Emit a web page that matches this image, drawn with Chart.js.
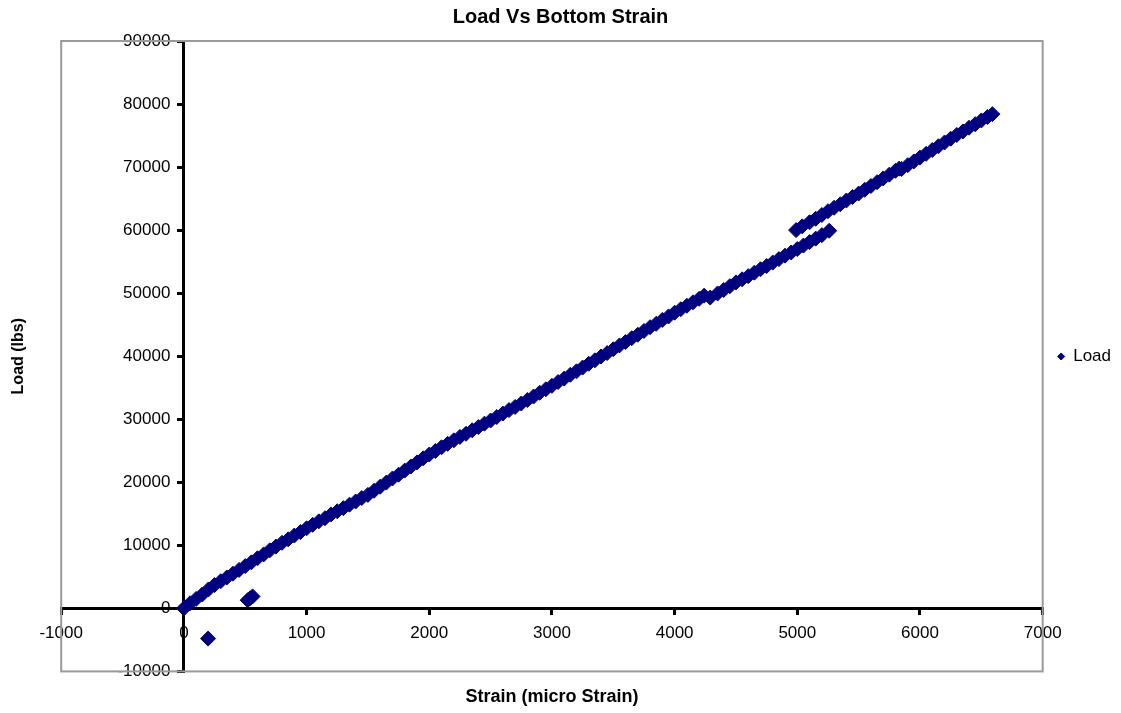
<!DOCTYPE html>
<html>
<head>
<meta charset="utf-8">
<script src="https://cdn.jsdelivr.net/npm/chart.js@4/dist/chart.umd.min.js"></script>
<style>
  html, body { margin: 0; padding: 0; background: #fff; }
  #wrap { width: 1121px; height: 713px; }
</style>
</head>
<body>
<div id="wrap"><canvas id="c" width="1121" height="713"></canvas></div>
<script>
// ---- Data ----
const chartTitle = "Load Vs Bottom Strain";
const xTitle = "Strain (micro Strain)";
const yTitle = "Load (lbs)";
const seriesName = "Load";

const xTicks = [-1000, 0, 1000, 2000, 3000, 4000, 5000, 6000, 7000];
const yTicks = [-10000, 0, 10000, 20000, 30000, 40000, 50000, 60000, 70000, 80000, 90000];

// main loading branch (micro strain)
const strainLower = [0, 50, 100, 150, 200, 250, 300, 350, 400, 450, 500, 550, 600, 650, 700, 750, 800, 850, 900, 950,
  1000, 1050, 1100, 1150, 1200, 1250, 1300, 1350, 1400, 1450, 1500, 1550, 1600, 1650, 1700, 1750, 1800, 1850, 1900, 1950,
  2000, 2050, 2100, 2150, 2200, 2250, 2300, 2350, 2400, 2450, 2500, 2550, 2600, 2650, 2700, 2750, 2800, 2850, 2900, 2950,
  3000, 3050, 3100, 3150, 3200, 3250, 3300, 3350, 3400, 3450, 3500, 3550, 3600, 3650, 3700, 3750, 3800, 3850, 3900, 3950,
  4000, 4050, 4100, 4150, 4200, 4240,
  4290, 4350, 4400, 4450, 4500, 4550, 4600, 4650, 4700, 4750, 4800, 4850, 4900, 4950, 5000, 5050, 5100, 5150, 5200, 5260];
const loadLower = [0, 800, 1500, 2200, 3000, 3700, 4300, 4900, 5500, 6100, 6700, 7300, 7950, 8550, 9200, 9800, 10400, 10950, 11550, 12100,
  12700, 13250, 13800, 14300, 14900, 15400, 15900, 16450, 16950, 17500, 18000, 18650, 19300, 19950, 20600, 21200, 21850, 22500, 23150, 23800,
  24400, 24950, 25550, 26100, 26650, 27200, 27700, 28250, 28750, 29300, 29800, 30350, 30900, 31450, 31950, 32500, 33050, 33600, 34200, 34750,
  35300, 35900, 36450, 37050, 37600, 38200, 38800, 39350, 39950, 40500, 41100, 41700, 42250, 42850, 43400, 44000, 44600, 45150, 45750, 46300,
  46900, 47450, 48000, 48550, 49100, 49600,
  49300, 49950, 50500, 51100, 51700, 52200, 52700, 53250, 53800, 54300, 54850, 55400, 55950, 56450, 57000, 57550, 58100, 58650, 59200, 59900];

// upper branch after the jump near 60000 lbs
const strainUpper = [4990, 5040, 5100, 5150, 5200, 5250, 5300, 5350, 5400, 5450, 5500, 5550, 5600, 5650, 5700, 5750, 5800, 5830,
  5850, 5900, 5950, 6000, 6050, 6100, 6150, 6200, 6250, 6300, 6350, 6400, 6450, 6500, 6550, 6590];
const loadUpper = [60000, 60600, 61250, 61800, 62400, 63000, 63550, 64100, 64700, 65250, 65800, 66400, 67000, 67600, 68200, 68800, 69400, 69750,
  69700, 70300, 70900, 71500, 72100, 72700, 73300, 73900, 74500, 75100, 75650, 76250, 76800, 77400, 77950, 78400];

// stray readings near the origin
const strainStray = [197, 520, 540, 560];
const loadStray = [-4800, 1300, 1600, 1900];

// ---- build chart ----
const pts = [];
strainLower.forEach((x, i) => pts.push({x: x, y: loadLower[i]}));
strainStray.forEach((x, i) => pts.push({x: x, y: loadStray[i]}));
strainUpper.forEach((x, i) => pts.push({x: x, y: loadUpper[i]}));

const FONT = "'Liberation Sans', Arial, sans-serif";
const NAVY = '#000080';
const TICK_FONT = { family: FONT, size: 17 };

const framePlugin = {
  id: 'frame',
  beforeDatasetsDraw(chart) {
    const a = chart.chartArea, ctx = chart.ctx;
    ctx.save();
    ctx.strokeStyle = '#9a9a9a';
    ctx.lineWidth = 2;
    ctx.strokeRect(a.left, a.top, a.right - a.left, a.bottom - a.top);
    ctx.restore();
  }
};

const plain = v => String(v);
const setX = s => { s.ticks = xTicks.map(v => ({ value: v })); };
const setY = s => { s.ticks = yTicks.map(v => ({ value: v })); };

new Chart(document.getElementById('c'), {
  type: 'scatter',
  data: {
    datasets: [{
      label: seriesName,
      data: pts,
      pointStyle: 'rectRot',
      pointRadius: 7.5,
      pointBorderWidth: 1,
      backgroundColor: NAVY,
      borderColor: NAVY
    }]
  },
  options: {
    responsive: false,
    animation: false,
    events: [],
    plugins: {
      title: {
        display: true, text: chartTitle, color: '#000',
        font: { family: FONT, size: 20, weight: 'bold' },
        padding: { top: 5, bottom: 12 }
      },
      legend: {
        display: true, position: 'right',
        labels: {
          usePointStyle: true, boxWidth: 7, boxHeight: 5, color: '#000',
          font: { family: FONT, size: 17 }, padding: 15
        }
      },
      tooltip: { enabled: false }
    },
    scales: {
      x: {
        type: 'linear', position: { y: 0 },
        min: xTicks[0], max: xTicks[xTicks.length - 1],
        afterBuildTicks: setX,
        ticks: { color: '#000', font: TICK_FONT, padding: 10, maxRotation: 0, autoSkip: false, callback: plain },
        grid: { drawOnChartArea: false, drawTicks: true, tickLength: 5, color: '#000', lineWidth: 3 },
        border: { display: true, color: '#000', width: 3 }
      },
      y: {
        type: 'linear', position: { x: 0 },
        min: yTicks[0], max: yTicks[yTicks.length - 1],
        afterBuildTicks: setY,
        ticks: { display: false, autoSkip: false },
        grid: { drawOnChartArea: false, drawTicks: true, tickLength: 5, color: '#000', lineWidth: 3 },
        border: { display: true, color: '#000', width: 3 }
      },
      // label carrier for the vertical axis, sitting just left of the zero line
      yLabels: {
        type: 'linear', position: { x: -110 },
        min: yTicks[0], max: yTicks[yTicks.length - 1],
        afterBuildTicks: setY,
        ticks: { color: '#000', font: TICK_FONT, autoSkip: false, callback: plain },
        grid: { display: false }, border: { display: false }
      },
      xt: {
        type: 'linear', position: 'bottom', display: true,
        ticks: { display: false }, grid: { display: false }, border: { display: false },
        title: { display: true, text: xTitle, color: '#000', font: { family: FONT, size: 18, weight: 'bold' }, padding: { top: 7, bottom: 5 } }
      },
      yt: {
        type: 'linear', position: 'left', display: true,
        ticks: { display: false }, grid: { display: false }, border: { display: false },
        title: { display: true, text: yTitle, color: '#000', font: { family: FONT, size: 16, weight: 'bold' }, padding: { top: 9, bottom: 25 } }
      }
    }
  },
  plugins: [framePlugin]
});
</script>
</body>
</html>
